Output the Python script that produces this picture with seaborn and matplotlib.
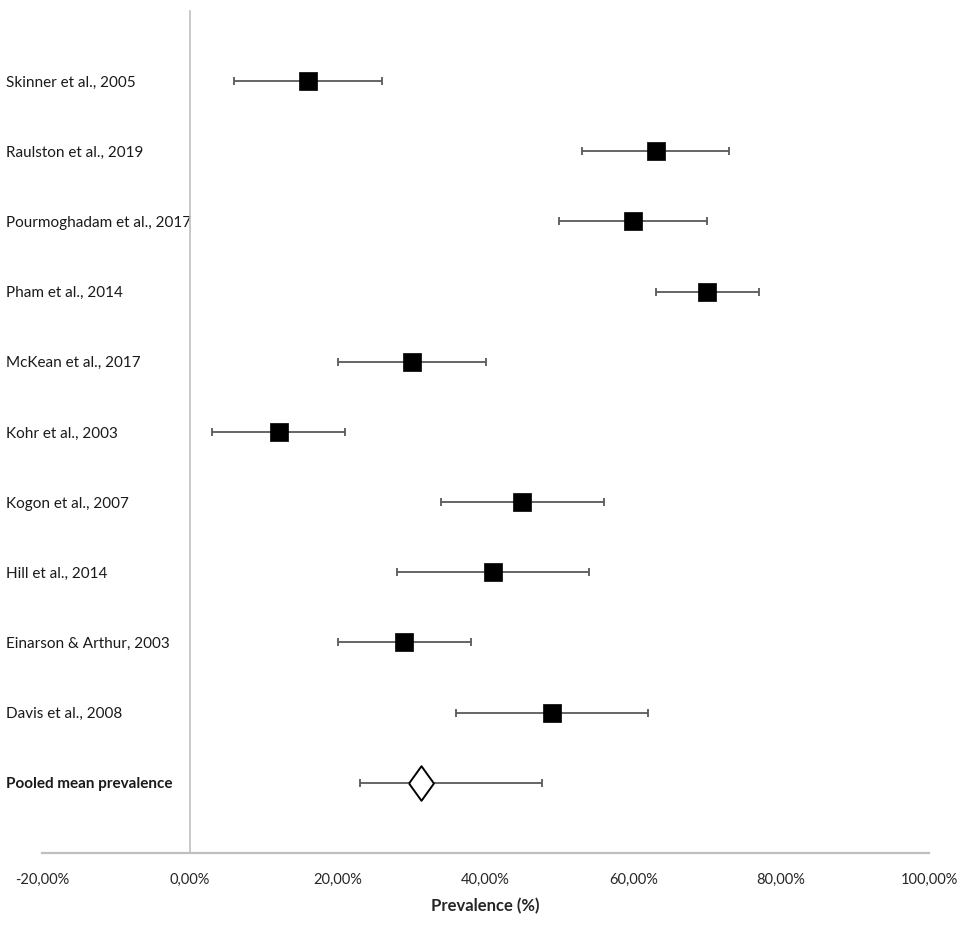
import matplotlib
matplotlib.use("Agg")
import matplotlib.pyplot as plt
import seaborn as sns
import numpy as np
import pandas as pd

studies = ["Skinner et al., 2005", "Raulston et al., 2019", "Pourmoghadam et al., 2017",
           "Pham et al., 2014", "McKean et al., 2017", "Kohr et al., 2003",
           "Kogon et al., 2007", "Hill et al., 2014", "Einarson & Arthur, 2003",
           "Davis et al., 2008"]
prevalence = [16, 63, 60, 70, 30, 12, 45, 41, 29, 49]
ci_low = [6, 53, 50, 63, 20, 3, 34, 28, 20, 36]
ci_high = [26, 73, 70, 77, 40, 21, 56, 54, 38, 62]

pooled_label = "Pooled mean prevalence"
pooled_value = 31.3
pooled_low = 23
pooled_high = 47.7

x_ticks = [-20, 0, 20, 40, 60, 80, 100]
x_tick_labels = ["-20,00%", "0,00%", "20,00%", "40,00%", "60,00%", "80,00%", "100,00%"]

sns.set_style("white")
plt.rcParams['font.family'] = ['Lato', 'DejaVu Sans']

df = pd.DataFrame({"study": studies, "prev": prevalence, "lo": ci_low, "hi": ci_high})
df["pos"] = np.arange(1, len(df) + 1)
pooled_pos = len(df) + 1

fig = plt.figure(figsize=(9.57, 9.27), dpi=100)
ax = fig.add_axes([42/957, 1 - 853/927, (929-42)/957, (853-11)/927])

ecol = "#595959"
ax.errorbar(df["prev"], df["pos"], xerr=[df["prev"] - df["lo"], df["hi"] - df["prev"]],
            fmt="none", ecolor=ecol, elinewidth=1.3, capsize=3.2, capthick=1.3, zorder=2)
ax.errorbar([pooled_value], [pooled_pos], xerr=[[pooled_value - pooled_low], [pooled_high - pooled_value]],
            fmt="none", ecolor=ecol, elinewidth=1.3, capsize=3.2, capthick=1.3, zorder=2)

sns.scatterplot(data=df, x="prev", y="pos", marker="s", s=150, color="black",
                edgecolor="black", linewidth=0.5, ax=ax, zorder=3, legend=False)
diamond = [(-0.72, 0), (0, 1), (0.72, 0), (0, -1), (-0.72, 0)]
sns.scatterplot(x=[pooled_value], y=[pooled_pos], marker=diamond, s=620, facecolor="white",
                edgecolor="black", linewidth=1.4, ax=ax, zorder=3, legend=False)

for s in ["top", "right"]:
    ax.spines[s].set_visible(False)
ax.spines["left"].set_position(("data", 0))
ax.spines["left"].set_color("#bfbfbf")
ax.spines["left"].set_linewidth(1.2)
ax.spines["bottom"].set_color("#bfbfbf")
ax.spines["bottom"].set_linewidth(1.6)

ax.set_xlim(-20, 100)
ax.set_ylim(12, 0)

ax.set_xticks(x_ticks)
ax.set_xticklabels(x_tick_labels, fontsize=10.5, color="#262626")
ax.tick_params(axis="x", length=0, pad=14)

ypos = list(df["pos"]) + [pooled_pos]
ax.set_yticks(ypos)
ax.set_yticklabels(studies + [pooled_label], fontsize=11, color="#1a1a1a")
ax.tick_params(axis="y", length=3, color="#d0d0d0", pad=129.5)
for lab in ax.get_yticklabels():
    lab.set_horizontalalignment("left")
ax.get_yticklabels()[-1].set_fontweight("bold")

ax.set_xlabel("Prevalence (%)", fontsize=12, fontweight="bold", color="#262626", labelpad=8)
ax.set_ylabel("")

fig.savefig("out.png", dpi=100, facecolor="white")
